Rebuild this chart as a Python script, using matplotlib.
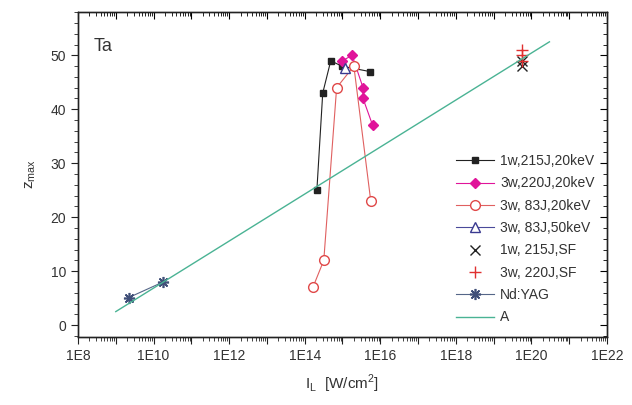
import numpy as np
import matplotlib
matplotlib.use('Agg')
import matplotlib.pyplot as plt
from matplotlib.ticker import LogLocator, FixedLocator, MultipleLocator, NullFormatter

plt.rcParams['font.family'] = ['Liberation Sans', 'DejaVu Sans']

# data
x_1w20 = [2.1e14, 3.0e14, 4.9e14, 9.5e14, 5.2e15]
z_1w20 = [25, 43, 49, 48, 47]

x_3w20 = [1.0e15, 1.8e15, 3.5e15, 3.5e15, 6.3e15]
z_3w20 = [49, 50, 44, 42, 37]

x_3w83 = [1.65e14, 3.2e14, 7.0e14, 2.0e15, 5.6e15]
z_3w83 = [7, 12, 44, 48, 23]

x_3w50 = [1.2e15]
z_3w50 = [47.6]

x_1wsf = [5.8e19, 5.8e19]
z_1wsf = [48, 49]

x_3wsf = [5.8e19, 5.8e19, 5.8e19]
z_3wsf = [51, 50, 49]

x_yag = [2.2e9, 1.8e10]
z_yag = [5.1, 8.0]

x_A = [1.0e9, 3.0e20]
z_A = [2.5, 52.5]

fig = plt.figure(figsize=(6.32, 4.05), dpi=100)
ax = fig.add_axes([0.1234, 0.168, 0.837, 0.802])

ax.plot(x_1w20, z_1w20, '-s', color='#222222', lw=0.8, ms=5, label='1w,215J,20keV')
ax.plot(x_3w20, z_3w20, '-D', color='#e0149a', mfc='#e0149a', mec='#e0149a', lw=0.8, ms=5,
        label='3w,220J,20keV')
ax.plot(x_3w83, z_3w83, '-o', color='#e06060', mfc='white', mec='#e04848', lw=0.8, ms=7,
        label='3w, 83J,20keV')
ax.plot(x_3w50, z_3w50, '-^', color='#4a4a9a', mfc='white', mec='#3a3a90', lw=0.8, ms=7,
        label='3w, 83J,50keV')
ax.plot(x_1wsf, z_1wsf, 'x', color='#222222', ms=7, mew=1.0, ls='none', label='1w, 215J,SF')
ax.plot(x_3wsf, z_3wsf, '+', color='#e03030', ms=8, mew=1.0, ls='none', label='3w, 220J,SF')
ax.plot(x_yag, z_yag, '-', marker=(8, 2, 0), color='#556688', mec='#404f78', mew=1.2,
        lw=0.8, ms=8, label='Nd:YAG')
ax.plot(x_A, z_A, '-', color='#4ab394', lw=1.0, label='A')

ax.set_xscale('log')
ax.set_xlim(1e8, 1e22)
ax.set_ylim(-2.2, 58)

major = [10.0 ** k for k in range(8, 23)]
ax.xaxis.set_major_locator(FixedLocator(major))
ax.xaxis.set_minor_locator(LogLocator(base=10, subs=np.arange(2, 10) * 1.0, numticks=100))
ax.xaxis.set_minor_formatter(NullFormatter())
labels = ['1E%d' % k if k % 2 == 0 else '' for k in range(8, 23)]
ax.set_xticklabels(labels)
ax.yaxis.set_major_locator(MultipleLocator(10))
ax.yaxis.set_minor_locator(MultipleLocator(2))

ax.tick_params(which='major', direction='out', length=5, width=0.8, labelsize=10,
               colors='#222222', labelcolor='#333333')
ax.tick_params(which='minor', direction='out', length=3, width=0.6, colors='#222222')

tx = ax.twiny()
tx.set_xscale('log')
tx.set_xlim(ax.get_xlim())
tx.xaxis.set_major_locator(FixedLocator(major))
tx.xaxis.set_minor_locator(LogLocator(base=10, subs=np.arange(2, 10) * 1.0, numticks=100))
tx.xaxis.set_major_formatter(NullFormatter())
tx.xaxis.set_minor_formatter(NullFormatter())
tx.tick_params(which='major', direction='in', length=5, width=0.8)
tx.tick_params(which='minor', direction='in', length=3, width=0.6)

ty = ax.twinx()
ty.set_ylim(ax.get_ylim())
ty.yaxis.set_major_locator(MultipleLocator(10))
ty.yaxis.set_minor_locator(MultipleLocator(2))
ty.yaxis.set_major_formatter(NullFormatter())
ty.tick_params(which='major', direction='in', length=5, width=0.8)
ty.tick_params(which='minor', direction='in', length=3, width=0.6)

for a in (ax, tx, ty):
    for s in a.spines.values():
        s.set_linewidth(0.9)
        s.set_color('#222222')

ax.text(0.03, 0.895, 'Ta', transform=ax.transAxes, fontsize=13, color='#333333',
        va='center', ha='left')

ax.set_xlabel(r'I$_\mathregular{L}$  [W/cm$^\mathregular{2}$]', fontsize=11, color='#333333',
              labelpad=7)
ax.set_ylabel(r'z$_\mathregular{max}$', fontsize=11, color='#333333', labelpad=9)

ax.legend(loc='lower right', bbox_to_anchor=(1.0, 0.0), frameon=False, fontsize=10,
          handlelength=2.8, handletextpad=0.4, labelspacing=0.6, labelcolor='#333333')

fig.savefig('out.png', dpi=100)
